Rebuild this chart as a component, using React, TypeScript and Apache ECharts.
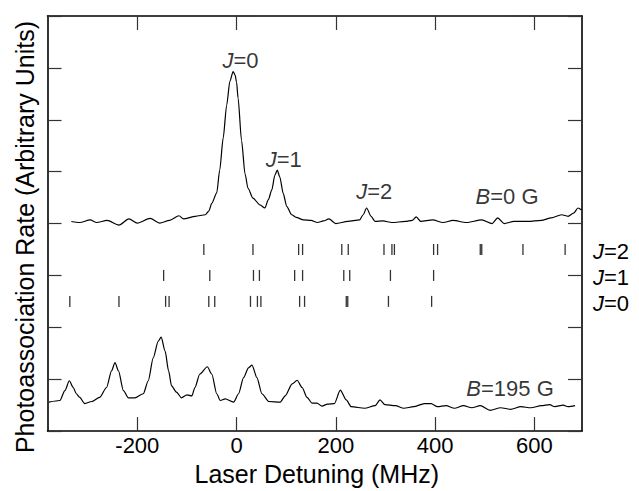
import React, { useEffect, useRef } from "react";
import * as echarts from "echarts";

// ---- data ----
const xTicks = [-200, 0, 200, 400, 600];

// B = 0 G spectrum: [detuning MHz, signal (arb.)]
const traceB0: number[][] = [
  [-333, 4.04], [-316, 4.02], [-295, 4.07], [-282, 4.02], [-261, 4.06], [-237, 3.97],
  [-217, 4.09], [-200, 4.01], [-174, 4.1], [-155, 4.01], [-135, 4.06], [-116, 4.15],
  [-107, 4.09], [-83, 4.14], [-63, 4.17], [-56, 4.24], [-50, 4.39], [-40, 4.59],
  [-34, 5.03], [-27, 5.65], [-20, 6.28], [-13.5, 6.74], [-7, 6.93], [-3, 6.86],
  [0, 6.72], [3, 6.42], [10, 5.6], [17, 4.96], [23, 4.68], [33, 4.49], [47, 4.36],
  [57, 4.3], [64, 4.46], [71, 4.65], [77, 4.93], [82, 5.03], [87, 4.9], [94, 4.58],
  [101, 4.33], [111, 4.17], [120, 4.12], [135, 4.07], [150, 4.06], [163, 4.02],
  [175, 4.05], [186, 4.09], [200, 4.0], [224, 4.04], [248, 4.07], [255, 4.17],
  [262, 4.3], [271, 4.14], [279, 4.04], [295, 4.05], [313, 4.02], [340, 4.04],
  [354, 4.06], [362, 4.13], [371, 4.04], [395, 4.07], [416, 4.02], [436, 4.06],
  [463, 4.02], [494, 4.07], [515, 4.0], [526, 4.11], [539, 4.0], [559, 4.04],
  [587, 4.04], [614, 4.06], [634, 4.11], [655, 4.17], [668, 4.14], [679, 4.2],
  [688, 4.3], [695, 4.26],
];

// B = 195 G spectrum
const traceB195: number[][] = [
  [-378, 0.56], [-356, 0.59], [-346, 0.78], [-337, 0.97], [-329, 0.84], [-323, 0.72],
  [-316, 0.65], [-306, 0.53], [-292, 0.57], [-276, 0.65], [-262, 0.84], [-252, 1.16],
  [-245, 1.32], [-238, 1.16], [-228, 0.78], [-218, 0.64], [-205, 0.64], [-188, 0.72],
  [-178, 0.97], [-168, 1.41], [-158, 1.73], [-152, 1.81], [-144, 1.54], [-137, 1.16],
  [-131, 0.87], [-121, 0.75], [-111, 0.64], [-100, 0.7], [-90, 0.68], [-84, 0.84],
  [-74, 1.1], [-59, 1.24], [-50, 1.1], [-40, 0.72], [-33, 0.59], [-23, 0.62],
  [-6, 0.56], [4, 0.72], [14, 1.03], [24, 1.22], [31, 1.27], [41, 1.03], [51, 0.72],
  [65, 0.57], [88, 0.56], [98, 0.68], [112, 0.91], [122, 0.98], [132, 0.84],
  [142, 0.65], [152, 0.54], [162, 0.54], [172, 0.48], [183, 0.52], [197, 0.53],
  [209, 0.79], [221, 0.6], [231, 0.47], [258, 0.44], [279, 0.49], [289, 0.6],
  [299, 0.51], [320, 0.49], [337, 0.44], [357, 0.47], [378, 0.53], [392, 0.53],
  [405, 0.47], [422, 0.49], [439, 0.44], [457, 0.49], [474, 0.45], [491, 0.49],
  [511, 0.4], [532, 0.45], [552, 0.42], [573, 0.47], [593, 0.45], [614, 0.49],
  [631, 0.51], [641, 0.47], [658, 0.5], [668, 0.47], [682, 0.49],
];

// predicted line positions (MHz) for each rotational level
const sticksJ2 = [-66, 33, 125, 133, 212, 225, 297, 313, 318, 397, 405, 491, 494, 577, 662];
const sticksJ1 = [-147, -54, 34, 46, 117, 133, 216, 228, 310, 397];
const sticksJ0 = [-336, -237, -143, -136, -56, -44, 28, 42, 49, 127, 137, 221, 224, 306, 393];
const rowNames = ["J=0", "J=1", "J=2"];
const rowLevels = [2.5, 3.0, 3.5];

// annotations: [x MHz, y, text]
const annotations: [number, number, string][] = [
  [8, 7.15, "J=0"],
  [95, 5.24, "J=1"],
  [277.5, 4.61, "J=2"],
  [545, 4.52, "B=0 G"],
  [551, 0.83, "B=195 G"],
];

const FONT = "'Liberation Sans', Arial, Helvetica, sans-serif";
const italicFirst = (s: string) => `{i|${s[0]}}${s.slice(1)}`;

export default function App() {
  const ref = useRef<HTMLDivElement>(null);

  useEffect(() => {
    if (!ref.current) return;
    const chart = echarts.init(ref.current, undefined, { renderer: "svg" });

    const stickRows = [sticksJ0, sticksJ1, sticksJ2];
    const stickData: number[][] = [];
    stickRows.forEach((row, i) => row.forEach((x) => stickData.push([x, rowLevels[i]])));

    const axisLineStyle = { color: "#000", width: 1.6 };
    const tickStyle = { color: "#333", width: 1.2 };
    const richItalic = { i: { fontStyle: "italic" as const, fontSize: 22, fontFamily: FONT, color: "#000" } };

    const option: any = {
      animation: false,
      backgroundColor: "#fff",
      grid: { left: 47.5, right: 57, top: 16, bottom: 53.3 },
      xAxis: [
        {
          type: "value",
          position: "bottom",
          min: -381,
          max: 696,
          axisLine: { show: true, onZero: false, lineStyle: axisLineStyle },
          axisTick: { show: true, inside: true, length: 14, customValues: xTicks, lineStyle: tickStyle },
          axisLabel: {
            show: true,
            customValues: xTicks,
            fontSize: 22,
            fontFamily: FONT,
            color: "#000",
            margin: 3,
          },
          splitLine: { show: false },
          name: "Laser Detuning (MHz)",
          nameLocation: "middle",
          nameGap: 26,
          nameTextStyle: { fontSize: 25, fontFamily: FONT, color: "#000", padding: [0, 0, 0, 4] },
        },
        {
          type: "value",
          position: "top",
          min: -381,
          max: 696,
          axisLine: { show: true, onZero: false, lineStyle: axisLineStyle },
          axisTick: { show: true, inside: true, length: 14, customValues: xTicks, lineStyle: tickStyle },
          axisLabel: { show: false },
          splitLine: { show: false },
        },
      ],
      yAxis: [
        {
          type: "value",
          position: "left",
          min: 0,
          max: 8,
          interval: 1,
          axisLine: { show: true, onZero: false, lineStyle: axisLineStyle },
          axisTick: { show: true, inside: true, length: 14, lineStyle: tickStyle },
          axisLabel: { show: false },
          splitLine: { show: false },
        },
        {
          type: "value",
          position: "right",
          min: 0,
          max: 8,
          interval: 1,
          axisLine: { show: true, onZero: false, lineStyle: axisLineStyle },
          axisTick: { show: true, inside: true, length: 14, lineStyle: tickStyle },
          axisLabel: { show: false },
          splitLine: { show: false },
        },
        {
          type: "value",
          position: "right",
          min: 0,
          max: 8,
          axisLine: { show: false, onZero: false },
          axisTick: { show: false },
          splitLine: { show: false },
          axisLabel: {
            show: true,
            customValues: rowLevels,
            margin: 11,
            fontSize: 22,
            fontFamily: FONT,
            color: "#000",
            padding: [4, 0, 0, 0],
            formatter: (v: number) => {
              const idx = rowLevels.findIndex((l) => Math.abs(l - v) < 1e-6);
              return idx >= 0 ? italicFirst(rowNames[idx]) : "";
            },
            rich: richItalic,
          },
        },
      ],
      series: [
        {
          name: "B=0 G",
          type: "line",
          data: traceB0,
          xAxisIndex: 0,
          yAxisIndex: 0,
          showSymbol: false,
          smooth: 0.25,
          smoothMonotone: "x",
          lineStyle: { color: "#000", width: 1.2 },
          silent: true,
        },
        {
          name: "B=195 G",
          type: "line",
          data: traceB195,
          xAxisIndex: 0,
          yAxisIndex: 0,
          showSymbol: false,
          smooth: 0.25,
          smoothMonotone: "x",
          lineStyle: { color: "#000", width: 1.2 },
          silent: true,
        },
        {
          name: "sticks",
          type: "scatter",
          data: stickData,
          xAxisIndex: 0,
          yAxisIndex: 0,
          symbol: "rect",
          symbolSize: [1.3, 11],
          itemStyle: { color: "#000" },
          silent: true,
        },
        {
          name: "labels",
          type: "scatter",
          data: annotations.map((a) => ({ value: [a[0], a[1]], name: a[2] })),
          xAxisIndex: 0,
          yAxisIndex: 0,
          symbolSize: 0,
          silent: true,
          label: {
            show: true,
            position: "inside",
            align: "center",
            verticalAlign: "middle",
            fontSize: 22,
            fontFamily: FONT,
            color: "#000",
            formatter: (p: any) => italicFirst(p.name),
            rich: richItalic,
          },
        },
      ],
      graphic: [
        {
          type: "text",
          x: 25,
          y: 237,
          rotation: Math.PI / 2,
          style: {
            text: "Photoassociation Rate (Arbitrary Units)",
            fontSize: 25,
            fontFamily: FONT,
            fill: "#000",
            align: "center",
            verticalAlign: "middle",
          },
        },
      ],
    };

    chart.setOption(option);
    return () => chart.dispose();
  }, []);

  return (
    <div
      ref={ref}
      style={{ position: "fixed", left: 0, top: 0, width: 639, height: 491, background: "#fff" }}
    />
  );
}
